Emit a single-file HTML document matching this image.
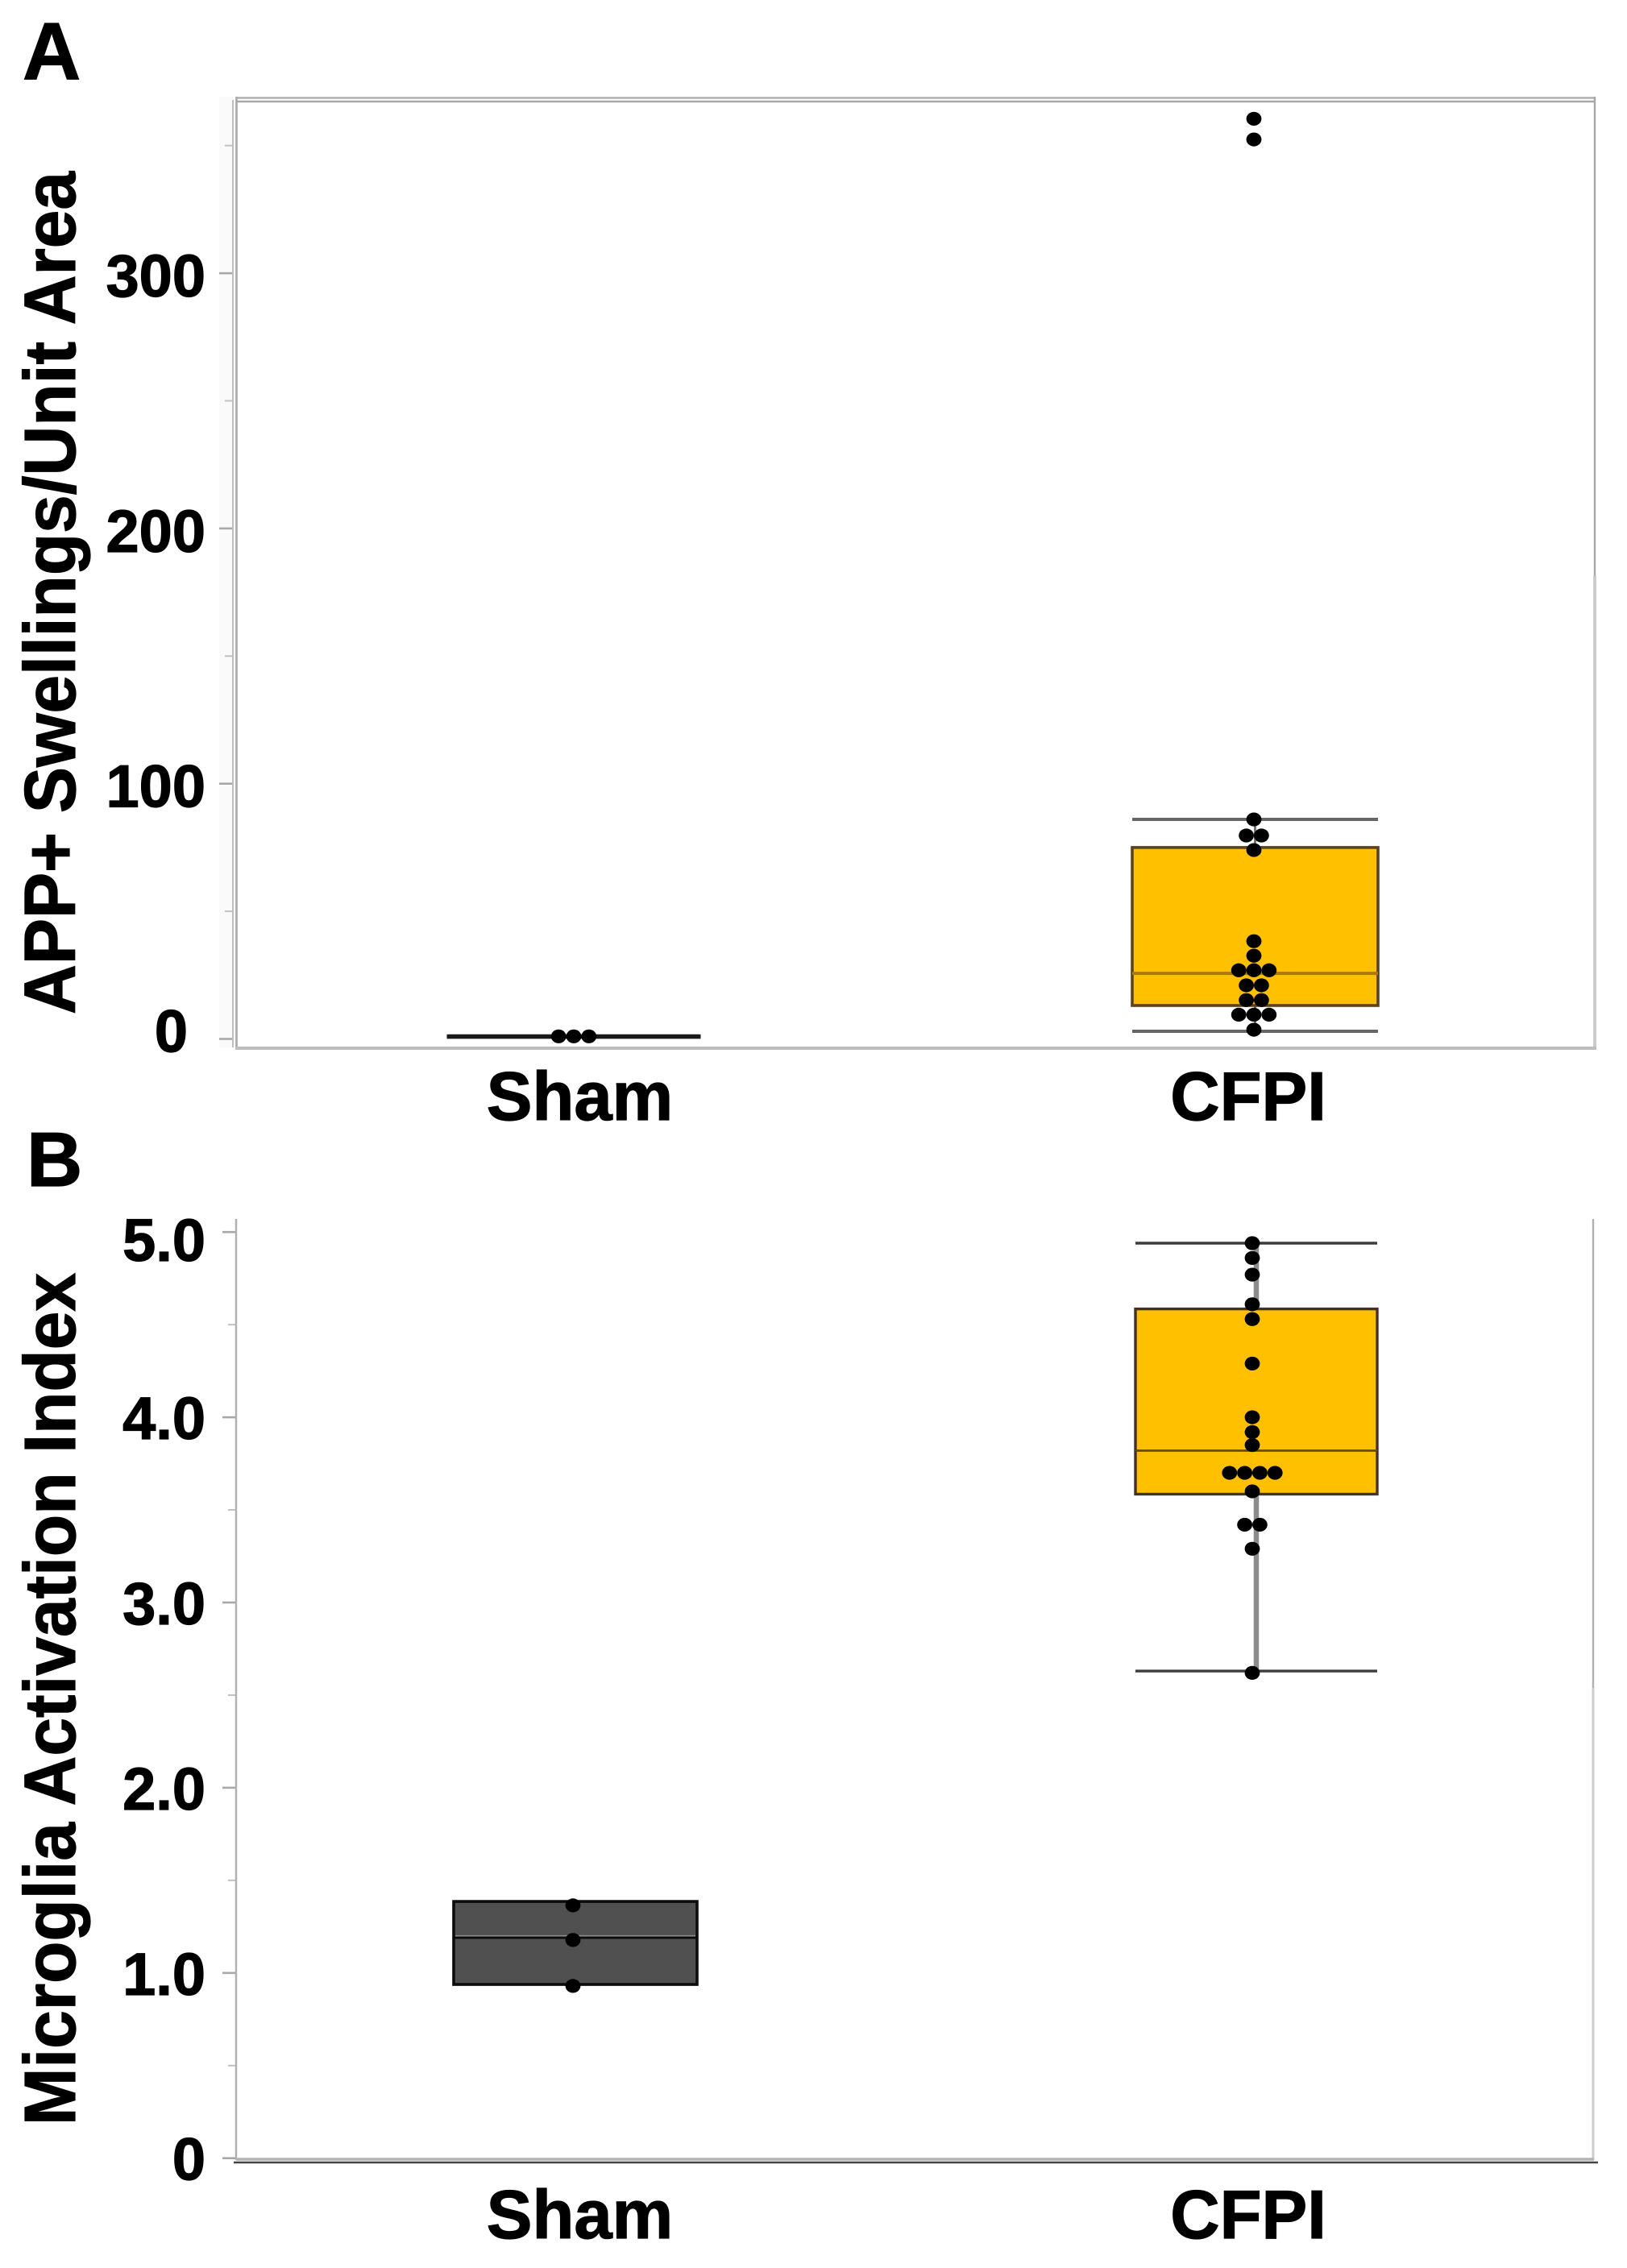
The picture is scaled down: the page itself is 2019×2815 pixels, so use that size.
<!DOCTYPE html>
<html lang="en">
<head>
<meta charset="utf-8">
<title>APP+ swellings and microglia activation box plots</title>
<style>
html,body{margin:0;padding:0;background:#fff;}
svg{display:block;}
text{font-family:"Liberation Sans",Arial,sans-serif;font-weight:bold;fill:#000;stroke:#000;stroke-width:1.2px;}
</style>
</head>
<body>
<svg id="figure" xmlns="http://www.w3.org/2000/svg" width="2019" height="2815" viewBox="0 0 2019 2815">
  <rect width="2019" height="2815" fill="#ffffff"/>
  <g id="panel-a">
    <rect x="272" y="120" width="17" height="1180" fill="#fafafa"/>
    <line x1="289" y1="124" x2="289" y2="1300" stroke="#b0b0b0" stroke-width="1.6"/>
    <line x1="293.5" y1="120" x2="293.5" y2="1302" stroke="#a8a8a8" stroke-width="2.6"/>
    <line x1="293" y1="121.5" x2="1980" y2="121.5" stroke="#b0b0b0" stroke-width="2.6"/>
    <line x1="293" y1="126" x2="1980" y2="126" stroke="#a8a8a8" stroke-width="2.4"/>
    <line x1="1979" y1="120" x2="1979" y2="715" stroke="#a8a8a8" stroke-width="2.4"/>
    <line x1="1979" y1="715" x2="1979" y2="1302" stroke="#cccccc" stroke-width="4"/>
    <line x1="292" y1="1301" x2="1981" y2="1301" stroke="#bdbdbd" stroke-width="4"/>
    <text x="28" y="98" font-size="100">A</text>
    <text transform="translate(93,1259) rotate(-90)" font-size="90" textLength="1046" lengthAdjust="spacingAndGlyphs">APP+ Swellings/Unit Area</text>
  </g>
  <g id="panel-b">
    <line x1="293" y1="1513" x2="293" y2="2681" stroke="#b0b0b0" stroke-width="2.4"/>
    <line x1="1977" y1="1513" x2="1977" y2="2095" stroke="#b0b0b0" stroke-width="2.4"/>
    <line x1="1977" y1="2095" x2="1977" y2="2681" stroke="#cccccc" stroke-width="3"/>
    <line x1="293" y1="2680" x2="1978" y2="2680" stroke="#b4b4b4" stroke-width="3.6"/>
    <line x1="290" y1="2684" x2="1983" y2="2684" stroke="#444444" stroke-width="2.4"/>
    <text x="33" y="1472" font-size="96">B</text>
    <text transform="translate(93,2638) rotate(-90)" font-size="90" textLength="1058" lengthAdjust="spacingAndGlyphs">Microglia Activation Index</text>
  </g>
</svg>
<script>
// Shared categories
const categories = ['Sham', 'CFPI'];

// Panel A data
const aTickValues = [0, 100, 200, 300];
const aTickLabels = ['0', '100', '200', '300'];
const aMinorTicks = [50, 150, 250, 350];
const aShamBox = [1, 1, 1, 1, 1];
const aCfpiBox = [3, 13.1, 25.7, 75, 86];
const aShamPoints = [1, 1, 1];
const aCfpiPoints = [3.6, 9.5, 9.5, 9.5, 15.2, 15.2, 21, 21, 26.9, 26.9, 26.9, 32.6, 38.3, 74, 79.7, 79.7, 86, 352.4, 360.5];

// Panel B data
const bTickValues = [0, 1, 2, 3, 4, 5];
const bTickLabels = ['0', '1.0', '2.0', '3.0', '4.0', '5.0'];
const bMinorTicks = [0.5, 1.5, 2.5, 3.5, 4.5];
const bShamBox = [0.938, 0.938, 1.19, 1.386, 1.386];
const bCfpiBox = [2.63, 3.585, 3.82, 4.585, 4.94];
const bShamPoints = [0.93, 1.178, 1.365];
const bCfpiPoints = [2.62, 3.29, 3.42, 3.42, 3.6, 3.7, 3.7, 3.7, 3.7, 3.85, 3.92, 4.0, 4.29, 4.53, 4.61, 4.77, 4.86, 4.94];

const SVG_NS = 'http://www.w3.org/2000/svg';
function mk(parent, tag, attrs) {
  const node = document.createElementNS(SVG_NS, tag);
  for (const key in attrs) node.setAttribute(key, attrs[key]);
  parent.appendChild(node);
  return node;
}

// Axis functions
const yA = v => 1289.5 - 3.168 * v;
const yB = v => 2678.7 - 229.9 * v;
const xBoxA = i => 712 + i * 845.5;
const xBoxB = i => 714 + i * 845;
const xDotA = i => 712 + i * 844;
const xDotB = i => 711 + i * 843;
const DOT_STEP = 18.8;

function drawTicks(group, prefix, values, labels, minors, y, right, labelNudge) {
  values.forEach((v, i) => {
    const tick = mk(group, 'line', {x1: right - 16, x2: right, y1: y(v), y2: y(v), stroke: '#a8a8a8', 'stroke-width': 2.6});
    
    
    const nudge = labelNudge(labels[i]);
    const label = mk(group, 'text', {x: 255 + nudge.dx, y: y(v) + 26 + nudge.dy, 'font-size': 74, 'text-anchor': 'end'});
    label.textContent = labels[i];
    
    
  });
  minors.forEach(v => {
    const tick = mk(group, 'line', {x1: right - 9, x2: right, y1: y(v), y2: y(v), stroke: '#c0c0c0', 'stroke-width': 2});
    
    
  });
}

function drawBox(group, prefix, stats, y, cx, halfW, style) {
  const [lo, q1, med, q3, hi] = stats;
  if (hi > q3 || lo < q1) {
    const stemHi = mk(group, 'line', {x1: cx, x2: cx, y1: y(hi), y2: y(q3), stroke: style.stem, 'stroke-width': style.stemWidth});
    
    
    const stemLo = mk(group, 'line', {x1: cx, x2: cx, y1: y(q1), y2: y(lo), stroke: style.stem, 'stroke-width': style.stemWidth});
    
    
    const capHi = mk(group, 'line', {x1: cx - halfW, x2: cx + halfW, y1: y(hi), y2: y(hi), stroke: style.cap, 'stroke-width': style.capWidth});
    
    
    const capLo = mk(group, 'line', {x1: cx - halfW, x2: cx + halfW, y1: y(lo), y2: y(lo), stroke: style.cap, 'stroke-width': style.capWidth});
    
    
  }
  const box = mk(group, 'rect', {x: cx - halfW, y: y(q3), width: 2 * halfW, height: Math.max(y(q1) - y(q3), 0.5), fill: style.fill, stroke: style.edge, 'stroke-width': style.edgeWidth});
  
  
  if (style.highlight) {
    const hl = mk(group, 'line', {x1: cx - halfW + 2, x2: cx + halfW - 2, y1: y(med) - 2.5, y2: y(med) - 2.5, stroke: style.highlight, 'stroke-width': 1.4});
    
    
  }
  const median = mk(group, 'line', {x1: cx - halfW, x2: cx + halfW, y1: y(med), y2: y(med), stroke: style.median, 'stroke-width': style.medianWidth});
  
  
}

function drawPoints(group, prefix, points, y, cx) {
  const counts = new Map();
  points.forEach(v => counts.set(v, (counts.get(v) || 0) + 1));
  const seen = new Map();
  points.forEach(v => {
    const n = counts.get(v);
    const k = seen.get(v) || 0;
    seen.set(v, k + 1);
    const dot = mk(group, 'ellipse', {cx: cx + (k - (n - 1) / 2) * DOT_STEP, cy: y(v), rx: 9.4, ry: 8.6, fill: '#000000'});
    
    
  });
}

function drawCategoryLabels(group, prefix, baseline) {
  categories.forEach((name, i) => {
    const label = mk(group, 'text', {x: i === 0 ? 719.5 : 1549, y: baseline, 'font-size': 85, 'text-anchor': 'middle'});
    label.textContent = name;
    
    
  });
}

const panelA = document.getElementById('panel-a');
const panelB = document.getElementById('panel-b');

const styleAShamBox = {fill: '#222222', edge: '#1a1a1a', edgeWidth: 5, median: '#1a1a1a', medianWidth: 5, stem: '#222222', stemWidth: 4, cap: '#1a1a1a', capWidth: 5};
const styleACfpiBox = {fill: '#ffc000', edge: '#5a4420', edgeWidth: 3.6, median: '#a97a10', medianWidth: 4, stem: '#777777', stemWidth: 3, cap: '#666666', capWidth: 4};
const styleBShamBox = {fill: '#505050', edge: '#0c0c0c', edgeWidth: 3.6, median: '#0c0c0c', medianWidth: 2.8, highlight: '#8a8a8a', stem: '#777777', stemWidth: 3, cap: '#222222', capWidth: 3};
const styleBCfpiBox = {fill: '#ffc000', edge: '#453028', edgeWidth: 3.4, median: '#6a4510', medianWidth: 2.8, stem: '#8c8c8c', stemWidth: 6.5, cap: '#3c3c3c', capWidth: 3.4};

drawTicks(panelA, 'panel-a', aTickValues, aTickLabels, aMinorTicks, yA, 288, l => l === '0' ? {dx: -22, dy: -10} : {dx: 0, dy: 3});
drawBox(panelA, 'panel-a-sham', aShamBox, yA, xBoxA(0), 155, styleAShamBox);
drawBox(panelA, 'panel-a-cfpi', aCfpiBox, yA, xBoxA(1), 152.5, styleACfpiBox);
drawPoints(panelA, 'panel-a-sham', aShamPoints, yA, xDotA(0));
drawPoints(panelA, 'panel-a-cfpi', aCfpiPoints, yA, xDotA(1));
drawCategoryLabels(panelA, 'panel-a', 1390);

drawTicks(panelB, 'panel-b', bTickValues, bTickLabels, bMinorTicks, yB, 292, l => l === '5.0' ? {dx: 0, dy: 10} : {dx: 0, dy: 1});
drawBox(panelB, 'panel-b-sham', bShamBox, yB, xBoxB(0), 151, styleBShamBox);
drawBox(panelB, 'panel-b-cfpi', bCfpiBox, yB, xBoxB(1), 150, styleBCfpiBox);
drawPoints(panelB, 'panel-b-sham', bShamPoints, yB, xDotB(0));
drawPoints(panelB, 'panel-b-cfpi', bCfpiPoints, yB, xDotB(1));
drawCategoryLabels(panelB, 'panel-b', 2778);
</script>
</body>
</html>
